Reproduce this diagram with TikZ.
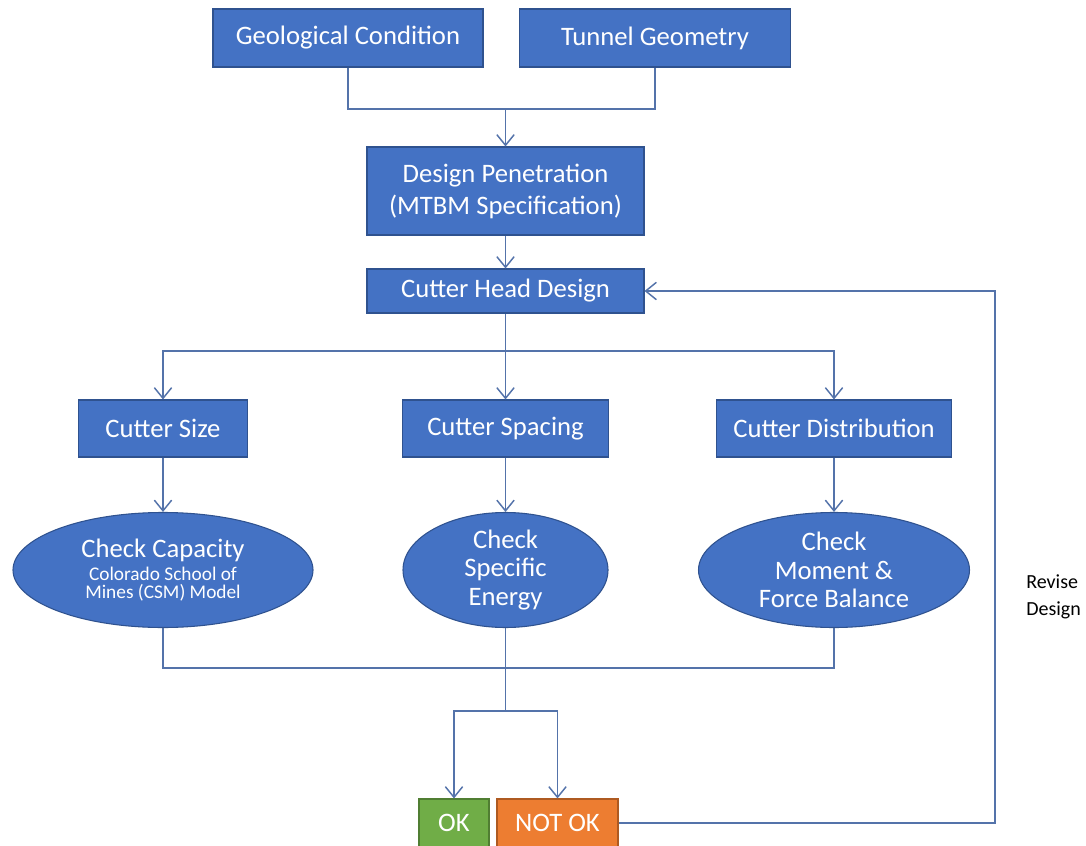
\documentclass[tikz,border=0pt]{standalone}
\usepackage{fontspec}
\setmainfont{Carlito}
\usetikzlibrary{shapes.geometric,arrows.meta}
\definecolor{boxblue}{HTML}{4472C4}
\definecolor{boxedge}{HTML}{2F528F}
\definecolor{okgreen}{HTML}{70AD47}
\definecolor{okedge}{HTML}{507E32}
\definecolor{nokorange}{HTML}{ED7D31}
\definecolor{nokedge}{HTML}{AE5A21}
\definecolor{linecol}{RGB}{84,115,170}
\tikzset{
  box/.style={rectangle, fill=boxblue, draw=boxedge, line width=0.8pt, text=white, inner sep=0pt, align=center, font=\fontsize{20}{24}\selectfont},
  oval/.style={ellipse, fill=boxblue, draw=boxedge, line width=0.8pt, text=white, inner sep=0pt, align=center, font=\fontsize{20}{21.5}\selectfont},
  okbox/.style={box, fill=okgreen, draw=okedge},
  nokbox/.style={box, fill=nokorange, draw=nokedge},
  conn/.style={draw=linecol, line width=1.2pt},
  arr/.style={conn, -{Straight Barb[length=8pt,width=13pt,line width=1.1pt]}},
}
\begin{document}
\begin{tikzpicture}[x=0.75pt,y=-0.75pt]
\useasboundingbox[fill=white] (0,0) rectangle (1086,846);
% top row
\node[box, minimum width=202.5pt, minimum height=43.5pt] (geo) at (348,38) {Geological Condition};
\node[box, minimum width=203.25pt, minimum height=43.5pt] (tun) at (655,38) {Tunnel Geometry};
\node[box, minimum width=207.75pt, minimum height=66pt] (dp) at (505.5,191) {Design Penetration\\(MTBM Specification)};
\node[box, minimum width=207.75pt, minimum height=33pt] (ch) at (505.5,291) {Cutter Head Design};
% second level
\node[box, minimum width=126.75pt, minimum height=42.75pt] (sz) at (163,428.5) {Cutter Size};
\node[box, minimum width=154.5pt, minimum height=42.75pt] (sp) at (505.5,428.5) {Cutter Spacing};
\node[box, minimum width=176.25pt, minimum height=42.75pt] (di) at (834,428.5) {Cutter Distribution};
% ellipses
\node[oval, minimum width=225pt, minimum height=86.25pt] (e1) at (163,570) {Check Capacity\\[-4pt]{\fontsize{14.5}{15}\selectfont Colorado School of}\\[-8pt]{\fontsize{14.5}{15}\selectfont Mines (CSM) Model}};
\node[oval, minimum width=153.75pt, minimum height=86.25pt] (e2) at (505.5,570) {Check\\Specific\\Energy};
\node[oval, minimum width=203.25pt, minimum height=86.25pt] (e3) at (834,570) {Check\\Moment \&\\Force Balance};
% results
\node[okbox, minimum width=52.5pt, minimum height=36pt] (ok) at (454,823) {OK};
\node[nokbox, minimum width=90.75pt, minimum height=36pt] (nok) at (557.5,823) {NOT OK};
% revise label
\node[anchor=west, align=left, inner sep=0pt, font=\fontsize{15}{20}\selectfont] (rev) at (1026,597) {Revise\\Design};
% junctions
\coordinate (j1) at (505.5,109);
\coordinate (j2) at (505.5,351);
\coordinate (j3) at (505.5,668);
\coordinate (j4) at (505.5,711);
\coordinate (fbx) at (995,0);
% connectors
\draw[conn] (geo.south) |- (j1) -| (tun.south);
\draw[arr] (j1) -- (dp.north);
\draw[arr] (dp.south) -- (ch.north);
\draw[arr] (ch.south) -- (sp.north);
\draw[arr] (j2) -| (sz.north);
\draw[arr] (j2) -| (di.north);
\draw[arr] (sz.south) -- (e1.north);
\draw[arr] (sp.south) -- (e2.north);
\draw[arr] (di.south) -- (e3.north);
\draw[conn] (e1.south) |- (j3) -| (e3.south);
\draw[conn] (e2.south) -- (j4);
\draw[arr] (j4) -| (ok.north);
\draw[arr] (j4) -| (nok.north);
\draw[arr] (nok.east) -| (fbx |- ch.east) -- (ch.east);
\end{tikzpicture}
\end{document}
